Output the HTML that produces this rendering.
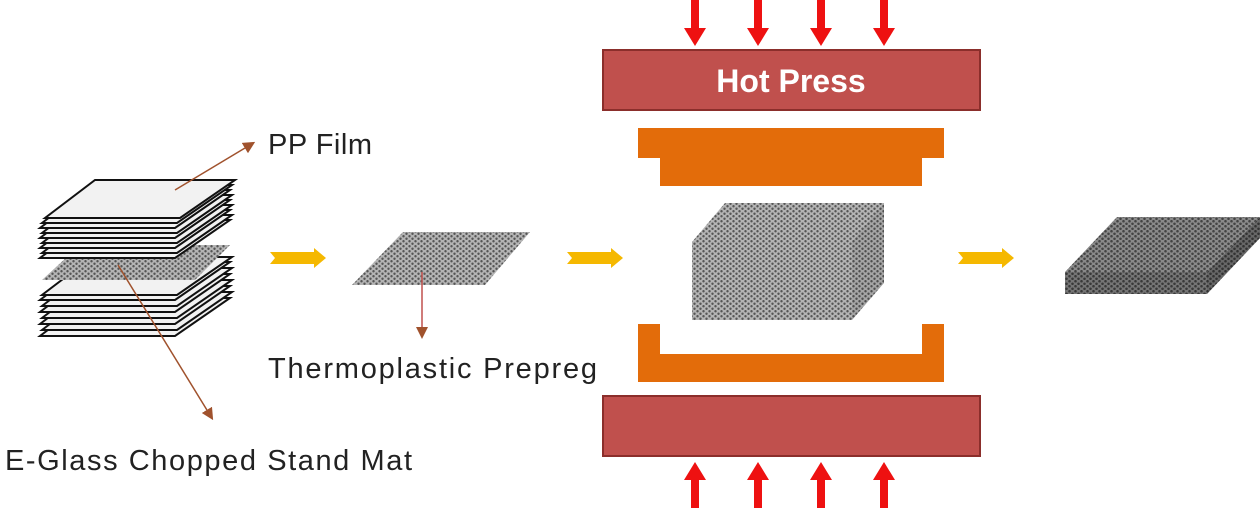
<!DOCTYPE html>
<html><head><meta charset="utf-8"><style>
html,body{margin:0;padding:0;background:#fff;}
svg{display:block;}
text{font-family:"Liberation Sans",sans-serif;}
</style></head><body>
<svg width="1260" height="508" viewBox="0 0 1260 508">
<defs>
<pattern id="dots" width="6" height="5" patternUnits="userSpaceOnUse">
<rect width="6" height="5" fill="#b4b4b4"/>
<circle cx="1.5" cy="1.25" r="1.2" fill="#555"/>
<circle cx="4.5" cy="3.75" r="1.2" fill="#555"/>
</pattern>
<pattern id="dotsd" width="6" height="5" patternUnits="userSpaceOnUse">
<rect width="6" height="5" fill="#8a8a8a"/>
<circle cx="1.5" cy="1.25" r="1.3" fill="#444"/>
<circle cx="4.5" cy="3.75" r="1.3" fill="#444"/>
</pattern>
<marker id="ah" markerWidth="12" markerHeight="12" refX="6" refY="6" orient="auto" markerUnits="userSpaceOnUse">
<path d="M0,0 L12,6 L0,12 z" fill="#a0522d"/>
</marker>
<path id="sheet" d="M50,0 L190,0 L135,38 L0,38 Z" fill="#f2f2f2" stroke="#111" stroke-width="2"/>
<path id="yarr" d="M0,-6 L44,-6 L44,-10 L56,0 L44,10 L44,6 L0,6 L5,0 Z" fill="#f5b800"/>
<path id="rdown" d="M-4,0 L4,0 L4,28 L11,28 L0,46 L-11,28 L-4,28 Z" fill="#ee1111"/>
</defs>

<use href="#sheet" x="40" y="298"/>
<use href="#sheet" x="42" y="292"/>
<use href="#sheet" x="40" y="286"/>
<use href="#sheet" x="42" y="280"/>
<use href="#sheet" x="40" y="274"/>
<use href="#sheet" x="42" y="268"/>
<use href="#sheet" x="40" y="262"/>
<use href="#sheet" x="42" y="257"/>
<path d="M80,245 L230,245 L195,280 L42,280 Z" fill="url(#dots)"/>
<use href="#sheet" x="40" y="220"/>
<use href="#sheet" x="42" y="215"/>
<use href="#sheet" x="40" y="210"/>
<use href="#sheet" x="42" y="205"/>
<use href="#sheet" x="40" y="200"/>
<use href="#sheet" x="42" y="195"/>
<use href="#sheet" x="40" y="190"/>
<use href="#sheet" x="42" y="185"/>
<use href="#sheet" x="45" y="180"/>
<line x1="175" y1="190" x2="250" y2="145" stroke="#a0522d" stroke-width="1.5" marker-end="url(#ah)"/>
<line x1="118" y1="265" x2="210" y2="415" stroke="#a0522d" stroke-width="1.5" marker-end="url(#ah)"/>
<text x="268" y="154" font-size="29" fill="#222" textLength="104" lengthAdjust="spacing">PP Film</text>
<text x="5" y="470" font-size="29" fill="#222" textLength="407" lengthAdjust="spacing">E-Glass Chopped Stand Mat</text>

<use href="#yarr" x="270" y="258"/>
<path d="M352,285 L403,232 L530,232 L485,285 Z" fill="url(#dots)"/>
<line x1="422" y1="272" x2="422" y2="333" stroke="#c0504d" stroke-width="1.5" marker-end="url(#ah)"/>
<text x="268" y="378" font-size="29" fill="#222" textLength="329" lengthAdjust="spacing">Thermoplastic Prepreg</text>
<use href="#yarr" x="567" y="258"/>

<use href="#rdown" x="695" y="0"/><use href="#rdown" x="758" y="0"/><use href="#rdown" x="821" y="0"/><use href="#rdown" x="884" y="0"/>
<rect x="603" y="50" width="377" height="60" fill="#c0504d" stroke="#8b2e2b" stroke-width="2"/>
<text x="791" y="92" font-size="32" font-weight="bold" fill="#fff" text-anchor="middle">Hot Press</text>
<path d="M638,128 L944,128 L944,158 L922,158 L922,186 L660,186 L660,158 L638,158 Z" fill="#e36c0a"/>
<path d="M692,242 L725,203 L884,203 L884,283 L852,320 L692,320 Z" fill="url(#dots)"/>
<path d="M852,242 L884,203 L884,283 L852,320 Z" fill="#000" opacity="0.08"/>
<path d="M638,324 L660,324 L660,354 L922,354 L922,324 L944,324 L944,382 L638,382 Z" fill="#e36c0a"/>
<rect x="603" y="396" width="377" height="60" fill="#c0504d" stroke="#8b2e2b" stroke-width="2"/>
<g transform="translate(0,508) scale(1,-1)">
<use href="#rdown" x="695" y="0"/><use href="#rdown" x="758" y="0"/><use href="#rdown" x="821" y="0"/><use href="#rdown" x="884" y="0"/>
</g>

<use href="#yarr" x="958" y="258"/>
<path d="M1065,272 L1117,217 L1260,217 L1207,272 Z" fill="url(#dotsd)"/>
<path d="M1065,272 L1207,272 L1207,294 L1065,294 Z" fill="url(#dotsd)"/>
<path d="M1065,272 L1207,272 L1207,294 L1065,294 Z" fill="#000" opacity="0.15"/>
<path d="M1207,272 L1260,217 L1260,238 L1207,294 Z" fill="url(#dotsd)"/>
<path d="M1207,272 L1260,217 L1260,238 L1207,294 Z" fill="#000" opacity="0.25"/>
</svg>
</body></html>
